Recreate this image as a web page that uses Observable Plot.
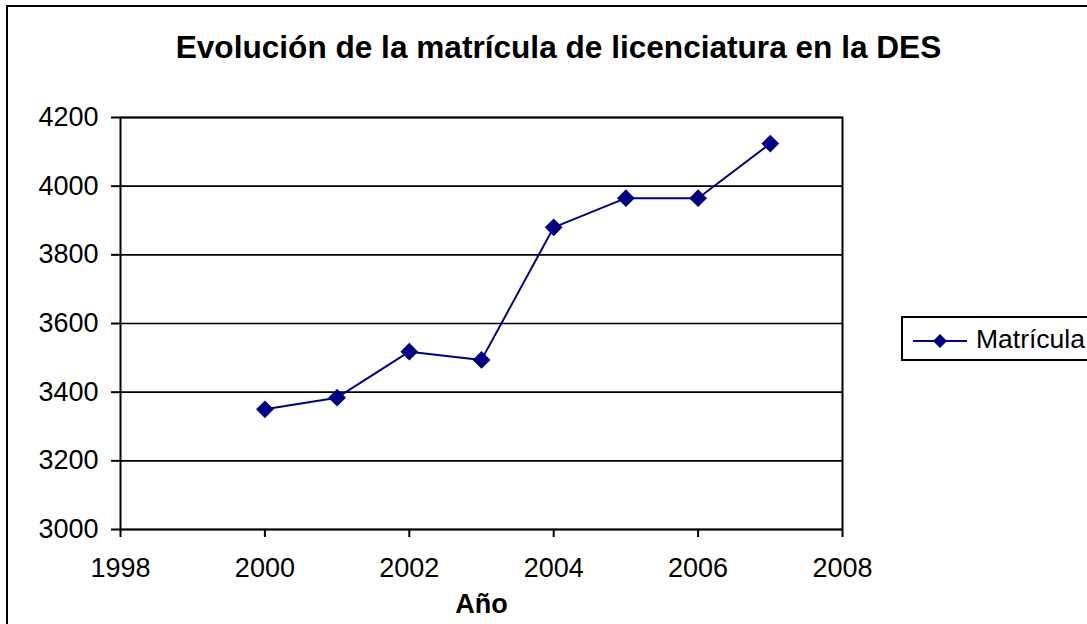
<!DOCTYPE html>
<html>
<head>
<meta charset="utf-8">
<script src="https://cdn.jsdelivr.net/npm/d3@7"></script>
<script src="https://cdn.jsdelivr.net/npm/@observablehq/plot@0.6"></script>
<style>
  html, body { margin: 0; padding: 0; background: #fff; }
  #wrap { position: relative; width: 1087px; height: 624px; overflow: hidden; font-family: "Liberation Sans", Arial, sans-serif; background: #fff; }
  #outer { position: absolute; left: 6px; top: 5px; width: 1300px; height: 800px; border-left: 2px solid #000; border-top: 2px solid #000; box-sizing: border-box; }
  #title { position: absolute; left: 0; width: 1117px; top: 32px; text-align: center; font-size: 31.6px; line-height: 1; font-weight: bold; color: #000; white-space: nowrap; }
  #chart { position: absolute; left: 0; top: 0; }
  #legend { position: absolute; left: 901px; top: 316px; width: 220px; height: 45px; border: 2px solid #000; box-sizing: border-box; background: #fff; }
  #legend svg { position: absolute; left: 8px; top: 0; }
  #legend span { position: absolute; left: 73px; top: 8px; font-size: 26.5px; line-height: 1; color: #000; white-space: nowrap; }
</style>
</head>
<body>
<div id="wrap">
  <div id="outer"></div>
  <div id="chart"></div>
  <div id="title"></div>
  <div id="legend"></div>
</div>
<script>
const titleText = "Evolución de la matrícula de licenciatura en la DES";
const xLabel = "Año";
const seriesName = "Matrícula";
const years = [2000, 2001, 2002, 2003, 2004, 2005, 2006, 2007];
const matricula = [3350, 3384, 3518, 3494, 3880, 3965, 3965, 4124];
const yTicks = [3000, 3200, 3400, 3600, 3800, 4000, 4200];
const xTicks = [1998, 2000, 2002, 2004, 2006, 2008];

const lineColor = "#000080";
const data = years.map((y, i) => ({year: y, value: matricula[i]}));

const chart = Plot.plot({
  width: 1087,
  height: 624,
  marginLeft: 120,
  marginRight: 245,
  marginTop: 117,
  marginBottom: 95,
  style: {fontFamily: "Liberation Sans, Arial, sans-serif", background: "transparent", color: "#000"},
  x: {domain: [1998, 2008]},
  y: {domain: [3000, 4200]},
  marks: [
    Plot.ruleY(yTicks, {stroke: "#000", strokeWidth: 1.6}),
    Plot.frame({stroke: "#000", strokeWidth: 2}),
    Plot.axisY({ticks: yTicks, tickSize: 9, tickPadding: 13, fontSize: 27, tickFormat: "d", label: null, stroke: "#000", strokeWidth: 2, strokeOpacity: 1}),
    Plot.axisX({ticks: xTicks, tickSize: 8, tickPadding: 20, fontSize: 27, tickFormat: "d", label: null, stroke: "#000", strokeWidth: 2, strokeOpacity: 1}),
    Plot.text([xLabel], {frameAnchor: "bottom", dy: 75, fontSize: 27, fontWeight: "bold", lineAnchor: "middle", fill: "#000"}),
    Plot.line(data, {x: "year", y: "value", stroke: lineColor, strokeWidth: 2}),
    Plot.dot(data, {x: "year", y: "value", symbol: "diamond2", r: 8, fill: lineColor, stroke: "none"})
  ]
});
document.getElementById("chart").appendChild(chart);
document.getElementById("title").textContent = titleText;

const legend = document.getElementById("legend");
const ns = "http://www.w3.org/2000/svg";
const lsvg = document.createElementNS(ns, "svg");
lsvg.setAttribute("width", "60");
lsvg.setAttribute("height", "41");
const ln = document.createElementNS(ns, "line");
ln.setAttribute("x1", "2"); ln.setAttribute("x2", "56");
ln.setAttribute("y1", "23"); ln.setAttribute("y2", "23");
ln.setAttribute("stroke", lineColor); ln.setAttribute("stroke-width", "2");
lsvg.appendChild(ln);
const dm = document.createElementNS(ns, "path");
dm.setAttribute("d", "M29,16L36,23L29,30L22,23Z");
dm.setAttribute("fill", lineColor);
lsvg.appendChild(dm);
legend.appendChild(lsvg);
const sp = document.createElement("span");
sp.textContent = seriesName;
legend.appendChild(sp);
</script>
</body>
</html>
